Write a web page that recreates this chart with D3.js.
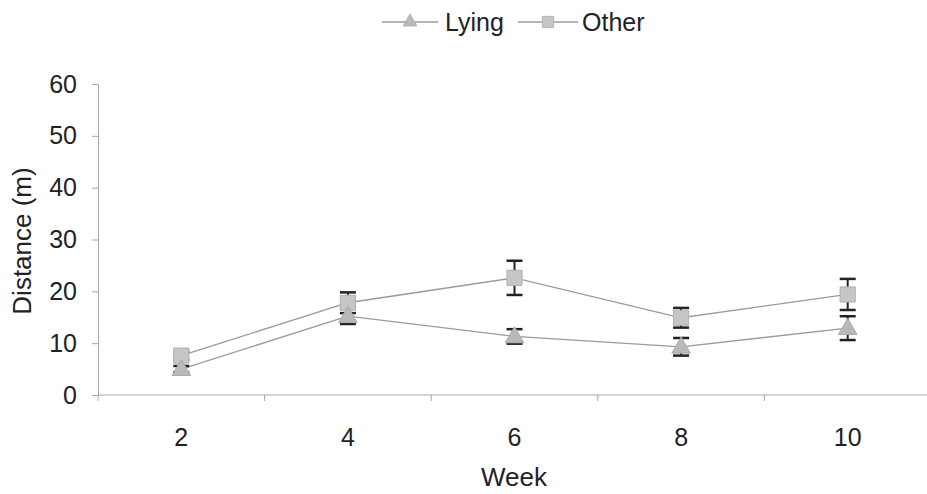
<!DOCTYPE html>
<html><head><meta charset="utf-8">
<script src="https://cdn.jsdelivr.net/npm/d3@7"></script>
<style>body{margin:0;background:#fff}svg{display:block}text{font-family:"Liberation Sans",Arial,sans-serif;fill:#222}</style>
</head><body>
<svg id="c" width="927" height="494"></svg>
<script>
const weeks = ["2","4","6","8","10"];
const lying = [5.0, 15.2, 11.3, 9.3, 12.9];
const lyingErr = [0.6, 1.5, 1.4, 1.7, 2.3];
const other = [7.6, 17.8, 22.6, 14.9, 19.4];
const otherErr = [0.8, 2.0, 3.3, 1.9, 3.0];
const yTicks = [0,10,20,30,40,50,60];

const svg = d3.select("#c");
const x = d3.scaleBand().domain(weeks).range([98, 931]);
const y = d3.scaleLinear().domain([0,60]).range([395, 84]);
const axisCol = "#a8a8a8";
const FF = "Liberation Sans, Arial, sans-serif";

// y axis
const ya = svg.append("g").attr("transform","translate(98,0)")
  .call(d3.axisLeft(y).tickValues(yTicks).tickSize(6).tickPadding(15));
ya.select(".domain").attr("stroke",axisCol);
ya.selectAll(".tick line").attr("stroke",axisCol);
ya.selectAll(".tick text").attr("font-size",25).attr("fill","#222").attr("font-family",FF);

// x axis
const xa = svg.append("g").attr("transform","translate(0,395)")
  .call(d3.axisBottom(x).tickSize(0).tickPadding(33));
xa.select(".domain").attr("stroke",axisCol).attr("d","M98,0H927");
xa.selectAll(".tick text").attr("font-size",25).attr("fill","#222").attr("font-family",FF);
const bounds = weeks.map(w => x(w)).concat([x(weeks[weeks.length-1]) + x.bandwidth()]);
svg.append("g").selectAll("line").data(bounds).join("line")
  .attr("x1",d=>d).attr("x2",d=>d).attr("y1",395).attr("y2",401).attr("stroke",axisCol);

// axis titles
svg.append("text").attr("x",514).attr("y",486).attr("text-anchor","middle").attr("font-size",26).text("Week");
svg.append("text").attr("transform","translate(31,241) rotate(-90)").attr("text-anchor","middle").attr("font-size",26).text("Distance (m)");

const cx = w => x(w) + x.bandwidth()/2;
const line = d3.line().x((d,i)=>cx(weeks[i])).y(d=>y(d));
const lineCol = "#9a9a9a";

svg.append("path").datum(other).attr("d",line).attr("fill","none").attr("stroke",lineCol).attr("stroke-width",1.3);
svg.append("path").datum(lying).attr("d",line).attr("fill","none").attr("stroke",lineCol).attr("stroke-width",1.3);

function errBars(vals, errs){
  const g = svg.append("g").attr("stroke","#222").attr("stroke-width",2);
  vals.forEach((v,i)=>{
    const X = cx(weeks[i]), t = y(v+errs[i]), b = y(v-errs[i]);
    g.append("line").attr("x1",X).attr("x2",X).attr("y1",t).attr("y2",b);
    g.append("line").attr("x1",X-8).attr("x2",X+8).attr("y1",t).attr("y2",t).attr("stroke-width",2.5);
    g.append("line").attr("x1",X-8).attr("x2",X+8).attr("y1",b).attr("y2",b).attr("stroke-width",2.5);
  });
}
errBars(other, otherErr);
errBars(lying, lyingErr);

const sq = d3.symbol().type(d3.symbolSquare).size(230);
const tri = d3.symbol().type(d3.symbolTriangle).size(150);
const sqFill = "#c6c6c6", triFill = "#b9b9b9";

svg.append("g").selectAll("path").data(other).join("path")
  .attr("d",sq).attr("transform",(d,i)=>`translate(${cx(weeks[i])},${y(d)})`)
  .attr("fill",sqFill).attr("stroke","#b0b0b0");
svg.append("g").selectAll("path").data(lying).join("path")
  .attr("d",tri).attr("transform",(d,i)=>`translate(${cx(weeks[i])},${y(d)+1})`)
  .attr("fill",triFill).attr("stroke","#aaaaaa");

// legend
const lg = svg.append("g");
const items = [{name:"Lying", x0:382, x1:438, sym:tri, fill:triFill, tx:445},
               {name:"Other", x0:518, x1:578, sym:sq, fill:sqFill, tx:582}];
items.forEach(it=>{
  lg.append("line").attr("x1",it.x0).attr("x2",it.x1).attr("y1",22).attr("y2",22).attr("stroke",lineCol).attr("stroke-width",1.3);
  lg.append("path").attr("d",it.sym).attr("transform",`translate(${(it.x0+it.x1)/2},22) scale(0.75)`).attr("fill",it.fill).attr("stroke","#aaa");
  lg.append("text").attr("x",it.tx).attr("y",31).attr("font-size",25).text(it.name);
});
</script>
</body></html>
